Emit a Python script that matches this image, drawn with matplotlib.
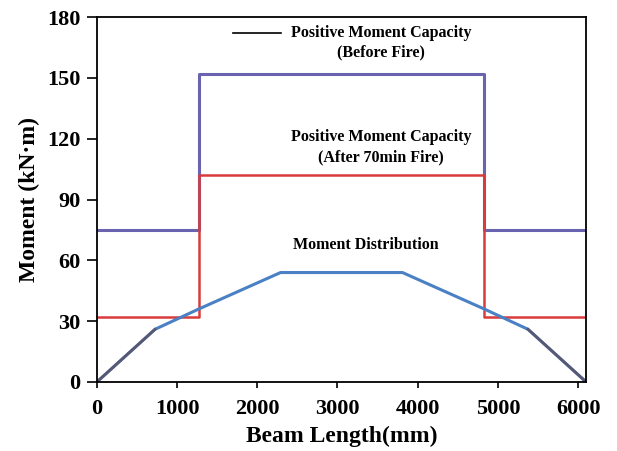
import matplotlib
matplotlib.use("Agg")
import matplotlib.pyplot as plt

plt.rcParams['font.family'] = ['Liberation Serif', 'DejaVu Serif']
plt.rcParams['font.weight'] = 'bold'

# Data
cap_before_x = [0, 1270, 1270, 4830, 4830, 6100]
cap_before_y = [75, 75, 152, 152, 75, 75]
cap_after_x = [0, 1270, 1270, 4830, 4830, 6100]
cap_after_y = [32, 32, 102, 102, 32, 32]
moment_x = [0, 725, 1270, 2290, 3810, 4830, 5375, 6100]
moment_y = [0, 26, 36, 54, 54, 36, 26, 0]
x_ticks = [0, 1000, 2000, 3000, 4000, 5000, 6000]
y_ticks = [0, 30, 60, 90, 120, 150, 180]

fig = plt.figure(figsize=(6.17, 4.51), dpi=100)
ax = fig.add_axes([0.157, 0.153, 0.793, 0.809])

ax.plot(cap_before_x, cap_before_y, color='#6a64b0', lw=2.2)
ax.plot(cap_after_x, cap_after_y, color='#d93a3a', lw=1.8)
ax.plot(moment_x, moment_y, color='#4a80c4', lw=2.2)
ax.plot(moment_x[:2], moment_y[:2], color='#5a5870', lw=2.0)
ax.plot(moment_x[-2:], moment_y[-2:], color='#5a5870', lw=2.0)

ax.set_xlim(0, 6100)
ax.set_ylim(0, 180)
ax.set_xticks(x_ticks)
ax.set_yticks(y_ticks)
ax.tick_params(axis='x', labelsize=16, width=1.2, length=4, pad=8, direction='out')
ax.tick_params(axis='y', labelsize=16, width=1.2, length=7, pad=5, direction='out')
for lab in ax.get_xticklabels() + ax.get_yticklabels():
    lab.set_fontweight('bold')
for s in ax.spines.values():
    s.set_linewidth(1.3)

ax.set_xlabel('Beam Length(mm)', fontsize=17, fontweight='bold', labelpad=5)
ax.set_ylabel('Moment (kN\u00b7m)', fontsize=17, fontweight='bold', labelpad=5)

# Legend-like annotation
fs = 11.5
ax.plot([1700, 2290], [172, 172], color='black', lw=1.2)
ax.text(3540, 172, 'Positive Moment Capacity', ha='center', va='center', fontsize=fs, fontweight='bold')
ax.text(3540, 162.5, '(Before Fire)', ha='center', va='center', fontsize=fs, fontweight='bold')
ax.text(3540, 120.7, 'Positive Moment Capacity', ha='center', va='center', fontsize=fs, fontweight='bold')
ax.text(3540, 110.8, '(After 70min Fire)', ha='center', va='center', fontsize=fs, fontweight='bold')
ax.text(3350, 67.5, 'Moment Distribution', ha='center', va='center', fontsize=fs, fontweight='bold')

fig.savefig('out.png', dpi=100)
